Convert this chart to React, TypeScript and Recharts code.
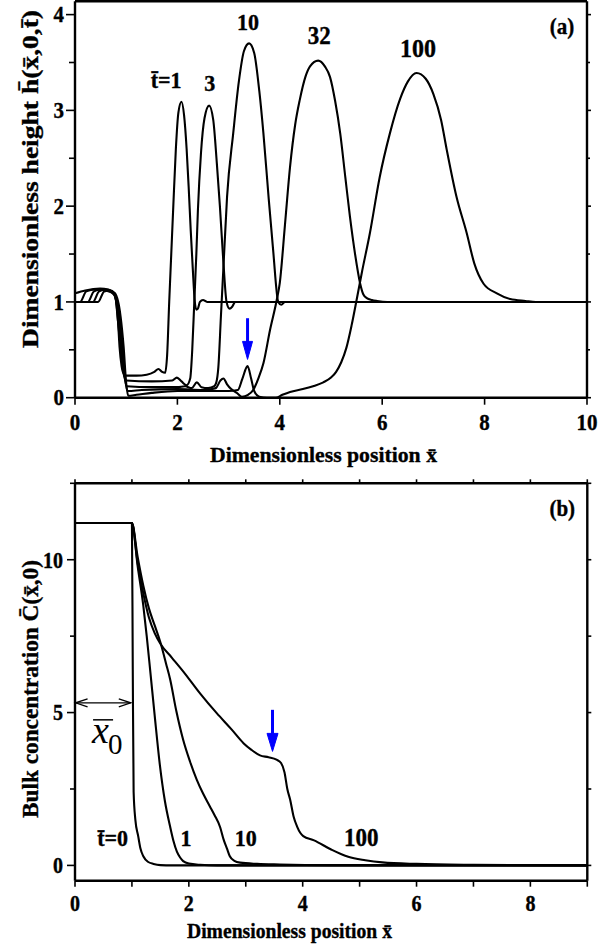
import React from 'react';
import { LineChart, Line, XAxis, YAxis, ReferenceLine, ReferenceDot, Label } from 'recharts';

const SERIF = "'Liberation Serif', 'Times New Roman', Times, serif";

// ---------- Panel (a): dimensionless height h(x,0,t) ----------
const hT1: [number, number][] = [
  [0, 1.0], [0.45, 1.0], [0.57, 1.11], [0.68, 1.12], [0.76, 1.09], [0.8, 1.02], [0.84, 0.8], [0.87, 0.53],
  [0.91, 0.33], [0.95, 0.25], [1.0, 0.23], [1.2, 0.23], [1.4, 0.24], [1.55, 0.27], [1.63, 0.3], [1.7, 0.27],
  [1.76, 0.26], [1.8, 0.45], [1.84, 1.0], [1.88, 1.5], [1.92, 2.0], [1.97, 2.6], [2.02, 2.98], [2.08, 3.09],
  [2.13, 2.95], [2.18, 2.6], [2.22, 2.2], [2.26, 1.75], [2.3, 1.35], [2.34, 1.0], [2.37, 0.92], [2.4, 0.93],
  [2.44, 1.0], [2.5, 1.02], [2.58, 1.0], [10, 1.0],
];
const hT3: [number, number][] = [
  [0, 1.0], [0.35, 1.0], [0.47, 1.11], [0.6, 1.13], [0.72, 1.11], [0.79, 1.05], [0.83, 0.85], [0.89, 0.53],
  [0.94, 0.28], [1.0, 0.18], [1.5, 0.17], [1.9, 0.18], [1.99, 0.21], [2.08, 0.17], [2.18, 0.13], [2.25, 0.2],
  [2.29, 0.5], [2.33, 1.0], [2.37, 1.5], [2.4, 1.95], [2.46, 2.55], [2.53, 2.92], [2.62, 3.05], [2.7, 2.9],
  [2.77, 2.45], [2.83, 2.0], [2.9, 1.4], [2.96, 1.0], [3.02, 0.93], [3.07, 0.95], [3.13, 1.0], [3.25, 1.0], [10, 1.0],
];
const hT10: [number, number][] = [
  [0, 1.0], [0.25, 1.0], [0.37, 1.11], [0.5, 1.13], [0.65, 1.12], [0.77, 1.07], [0.85, 0.85], [0.91, 0.53],
  [0.96, 0.25], [1.01, 0.12], [1.5, 0.11], [2.0, 0.11], [2.15, 0.12], [2.28, 0.1], [2.38, 0.16], [2.47, 0.11],
  [2.6, 0.1], [2.72, 0.12], [2.76, 0.16], [2.8, 0.32], [2.85, 0.85], [2.9, 1.37], [2.97, 2.1], [3.09, 2.76],
  [3.2, 3.3], [3.3, 3.62], [3.4, 3.7], [3.5, 3.6], [3.6, 3.2], [3.68, 2.76], [3.78, 2.1], [3.87, 1.54],
  [3.97, 1.0], [4.03, 0.97], [4.1, 1.0], [10, 1.0],
];
const hT32: [number, number][] = [
  [0, 1.0], [0.1, 1.0], [0.22, 1.11], [0.4, 1.13], [0.6, 1.12], [0.77, 1.08], [0.87, 0.85], [0.93, 0.53],
  [0.98, 0.2], [1.03, 0.07], [1.3, 0.08], [2.0, 0.09], [2.5, 0.08], [2.75, 0.1], [2.84, 0.18], [2.9, 0.2],
  [2.97, 0.14], [3.05, 0.09], [3.16, 0.05], [3.26, 0.01], [3.38, 0.03], [3.48, 0.08], [3.58, 0.2], [3.68, 0.36],
  [3.81, 0.71], [3.94, 1.02], [4.0, 1.2], [4.1, 1.8], [4.2, 2.41], [4.3, 2.85], [4.39, 3.11], [4.5, 3.35],
  [4.59, 3.46], [4.75, 3.52], [4.88, 3.46], [4.98, 3.35], [5.08, 3.1], [5.18, 2.76], [5.28, 2.3], [5.37, 1.89],
  [5.47, 1.5], [5.57, 1.19], [5.63, 1.08], [5.7, 1.04], [5.8, 1.02], [5.9, 1.01], [6.1, 1.0], [10, 1.0],
];
const hT100: [number, number][] = [
  [0, 1.09], [0.2, 1.12], [0.49, 1.14], [0.65, 1.13], [0.78, 1.09], [0.89, 0.85], [0.95, 0.53], [1.0, 0.15],
  [1.04, 0.02], [1.2, 0.03], [1.5, 0.05], [2.0, 0.07], [2.5, 0.07], [3.0, 0.07], [3.18, 0.08], [3.27, 0.2],
  [3.37, 0.33], [3.44, 0.2], [3.5, 0.07], [3.6, 0.01], [3.75, 0.0], [3.92, 0.0], [4.05, 0.03], [4.2, 0.06],
  [4.45, 0.09], [4.65, 0.12], [4.85, 0.16], [5.0, 0.21], [5.1, 0.27], [5.2, 0.37], [5.3, 0.52], [5.4, 0.75],
  [5.5, 1.02], [5.6, 1.3], [5.76, 1.72], [5.95, 2.3], [6.15, 2.76], [6.35, 3.12], [6.5, 3.3], [6.67, 3.39],
  [6.85, 3.33], [7.0, 3.17], [7.15, 2.9], [7.26, 2.59], [7.45, 2.1], [7.65, 1.72], [7.8, 1.4], [7.98, 1.19],
  [8.24, 1.09], [8.5, 1.03], [8.8, 1.01], [9.0, 1.0], [10, 1.0],
];
const hLabels: { x: number; y: number; text: string; size: number }[] = [
  { x: 1.78, y: 3.235, text: 't\u0304=1', size: 22 },
  { x: 2.63, y: 3.2, text: '3', size: 22 },
  { x: 3.38, y: 3.84, text: '10', size: 22 },
  { x: 4.77, y: 3.69, text: '32', size: 23 },
  { x: 6.7, y: 3.56, text: '100', size: 24 },
  { x: 9.51, y: 3.8, text: '(a)', size: 21 },
];
const hXTicks = [0, 2, 4, 6, 8, 10];
const hYTicks = [0, 0.5, 1, 1.5, 2, 2.5, 3, 3.5, 4];

// ---------- Panel (b): bulk concentration C(x,0) ----------
const cT0: [number, number][] = [
  [0, 11.2], [1.0, 11.2], [1.015, 6.4], [1.03, 2.4], [1.06, 1.5], [1.11, 0.96], [1.15, 0.55], [1.2, 0.3],
  [1.28, 0.12], [1.38, 0.05], [1.5, 0.01], [1.7, 0], [9, 0],
];
const cT1: [number, number][] = [
  [0, 11.2], [1.0, 11.2], [1.1, 9.8], [1.2, 8.5], [1.26, 7.5], [1.32, 6.4], [1.4, 4.9], [1.49, 3.3],
  [1.58, 2.1], [1.67, 1.28], [1.73, 0.8], [1.79, 0.45], [1.85, 0.25], [1.9, 0.14], [2.0, 0.06], [2.2, 0.02],
  [2.5, 0.0], [9, 0],
];
const cT10: [number, number][] = [
  [0, 11.2], [1.0, 11.2], [1.1, 10.1], [1.2, 9.15], [1.3, 8.4], [1.4, 7.85], [1.5, 7.3], [1.6, 6.6],
  [1.67, 6.1], [1.78, 5.05], [1.9, 4.11], [2.02, 3.4], [2.14, 2.8], [2.25, 2.35], [2.37, 1.93], [2.45, 1.65],
  [2.55, 1.25], [2.61, 0.85], [2.67, 0.55], [2.72, 0.3], [2.8, 0.15], [2.9, 0.09], [3.2, 0.05], [3.6, 0.03],
  [4.5, 0.01], [9, 0],
];
const cT100: [number, number][] = [
  [0, 11.2], [1.0, 11.2], [1.1, 9.9], [1.2, 8.9], [1.3, 8.1], [1.4, 7.6], [1.5, 7.25], [1.7, 6.8],
  [1.9, 6.35], [2.2, 5.62], [2.49, 4.98], [2.75, 4.45], [2.96, 4.0], [3.1, 3.78], [3.25, 3.6], [3.4, 3.54],
  [3.54, 3.46], [3.62, 3.35], [3.68, 3.05], [3.73, 2.5], [3.78, 2.15], [3.84, 1.6], [3.9, 1.28], [3.96, 1.06],
  [4.01, 0.96], [4.2, 0.82], [4.5, 0.52], [4.8, 0.28], [5.1, 0.17], [5.4, 0.1], [6.0, 0.05], [7, 0.02], [9, 0],
];
const cLabels: { x: number; y: number; text: string; size: number }[] = [
  { x: 0.66, y: 0.62, text: 't\u0304=0', size: 22 },
  { x: 1.95, y: 0.62, text: '1', size: 22 },
  { x: 3.0, y: 0.62, text: '10', size: 22 },
  { x: 5.03, y: 0.62, text: '100', size: 23 },
  { x: 8.56, y: 11.44, text: '(b)', size: 21 },
];
const cXTicks = [0, 1, 2, 3, 4, 5, 6, 7, 8, 9];
const cYTicks = [0, 2.5, 5, 7.5, 10, 12.5];

const toPts = (a: [number, number][]) => a.map(([x, y]) => ({ x, y }));

function SText({ x, y, text, size, k = 1, anchor = 'middle', rotate = false, italic = false, bold = true, len }: any) {
  const tf = rotate
    ? `translate(${x},${y}) rotate(-90) scale(${k},1)`
    : `translate(${x},${y}) scale(1,${k})`;
  const extra: any = len ? { textLength: len, lengthAdjust: 'spacingAndGlyphs' } : {};
  return (
    <g transform={tf}>
      <text
        x={0}
        y={0}
        textAnchor={anchor}
        fill="#000"
        stroke="#000"
        strokeWidth={0.35}
        style={{
          fontFamily: SERIF,
          fontSize: size,
          fontWeight: bold ? 700 : 400,
          fontStyle: italic ? 'italic' : 'normal',
        }}
        {...extra}
      >
        {text}
      </text>
    </g>
  );
}

type TickCfg = {
  orient: 'left' | 'right' | 'bottom' | 'top';
  isMajor: (v: number) => boolean;
  majorLen: number;
  minorLen: number;
  label?: { size: number; k: number; gap: number };
};

function makeTick(cfg: TickCfg) {
  return (p: any) => {
    const { x, y, payload } = p;
    const v = Number(payload.value);
    const maj = cfg.isMajor(v);
    const L = maj ? cfg.majorLen : cfg.minorLen;
    let x2 = x;
    let y2 = y;
    if (cfg.orient === 'left') x2 = x - L;
    else if (cfg.orient === 'right') x2 = x + L;
    else if (cfg.orient === 'bottom') y2 = y + L;
    else y2 = y - L;
    let lab: any = null;
    if (cfg.label && maj) {
      const { size, k, gap } = cfg.label;
      if (cfg.orient === 'left') {
        lab = <SText x={x - gap} y={y + 0.34 * size * k} text={String(v)} size={size} k={k} anchor="end" />;
      } else if (cfg.orient === 'bottom') {
        lab = <SText x={x} y={y + gap} text={String(v)} size={size} k={k} />;
      }
    }
    return (
      <g>
        <line x1={x} y1={y} x2={x2} y2={y2} stroke="#000" strokeWidth={1.6} />
        {lab}
      </g>
    );
  };
}

const textShape = (text: string, size: number, k: number) => (p: any) => (
  <SText x={p.cx} y={p.cy} text={text} size={size} k={k} />
);

const blueHead = (len: number, half: number) => (p: any) => (
  <polygon
    points={`${p.cx},${p.cy} ${p.cx - half},${p.cy - len} ${p.cx + half},${p.cy - len}`}
    fill="#0000ff"
    stroke="#0000ff"
    strokeWidth={1}
  />
);

const openHead = (dir: number) => (p: any) => (
  <polyline
    points={`${p.cx - dir * 12},${p.cy - 4} ${p.cx},${p.cy} ${p.cx - dir * 12},${p.cy + 4}`}
    fill="none"
    stroke="#000"
    strokeWidth={1.3}
  />
);

const x0Shape = (p: any) => (
  <g>
    <line x1={p.cx + 1} y1={p.cy - 23} x2={p.cx + 21} y2={p.cy - 23} stroke="#000" strokeWidth={1.5} />
    <text x={p.cx} y={p.cy} style={{ fontFamily: SERIF, fontStyle: 'italic', fontSize: 38 }} fill="#000">x</text>
    <text x={p.cx + 16} y={p.cy + 11} style={{ fontFamily: SERIF, fontSize: 29 }} fill="#000">0</text>
  </g>
);

const axisLine = { stroke: '#000', strokeWidth: 2.4 };
const LINE = { stroke: '#000', strokeWidth: 2.1, dot: false, isAnimationActive: false, type: 'monotone' as const };

function PanelA() {
  return (
    <LineChart width={598} height={470} margin={{ top: 0, right: 0, bottom: 0, left: 0 }}>
      <XAxis
        xAxisId="b"
        type="number"
        dataKey="x"
        domain={[0, 10]}
        ticks={hXTicks}
        interval={0}
        allowDataOverflow
        height={72.3}
        axisLine={axisLine}
        tickLine={false}
        tickSize={0}
        tickMargin={0}
        tick={makeTick({ orient: 'bottom', isMajor: () => true, majorLen: 7, minorLen: 7, label: { size: 21, k: 1.08, gap: 32 } })}
      >
        <Label
          content={() => <SText x={323.5} y={462} text={'Dimensionless position x\u0304'} size={22} len={227} />}
        />
      </XAxis>
      <XAxis
        xAxisId="t"
        orientation="top"
        type="number"
        dataKey="x"
        domain={[0, 10]}
        ticks={hXTicks}
        allowDataOverflow
        height={1.2}
        axisLine={axisLine}
        tickLine={false}
        tick={false}
      />
      <YAxis
        yAxisId="l"
        type="number"
        domain={[0, 4.14]}
        ticks={hYTicks}
        interval={0}
        allowDataOverflow
        width={75}
        axisLine={axisLine}
        tickLine={false}
        tickSize={0}
        tickMargin={0}
        tick={makeTick({ orient: 'left', isMajor: (v) => Number.isInteger(v), majorLen: 9, minorLen: 6, label: { size: 21, k: 1.08, gap: 11 } })}
      >
        <Label
          content={() => (
            <SText x={37.5} y={179} rotate text={'Dimensionless height h\u0304(x\u0304,0,t\u0304)'} size={24} len={338} />
          )}
        />
      </YAxis>
      <YAxis
        yAxisId="r"
        orientation="right"
        type="number"
        domain={[0, 4.14]}
        ticks={hYTicks}
        interval={0}
        allowDataOverflow
        width={11}
        axisLine={axisLine}
        tickLine={false}
        tickSize={0}
        tickMargin={0}
        tick={makeTick({ orient: 'right', isMajor: (v) => Number.isInteger(v), majorLen: 4, minorLen: 3 })}
      />
      <Line xAxisId="b" yAxisId="l" data={toPts(hT1)} dataKey="y" {...LINE} />
      <Line xAxisId="b" yAxisId="l" data={toPts(hT3)} dataKey="y" {...LINE} />
      <Line xAxisId="b" yAxisId="l" data={toPts(hT10)} dataKey="y" {...LINE} />
      <Line xAxisId="b" yAxisId="l" data={toPts(hT32)} dataKey="y" {...LINE} />
      <Line xAxisId="b" yAxisId="l" data={toPts(hT100)} dataKey="y" {...LINE} />
      <ReferenceLine
        xAxisId="b"
        yAxisId="l"
        segment={[{ x: 3.37, y: 0.83 }, { x: 3.37, y: 0.55 }]}
        stroke="#0000ff"
        strokeWidth={3}
        ifOverflow="visible"
      />
      <ReferenceDot xAxisId="b" yAxisId="l" x={3.37} y={0.4} r={1} ifOverflow="visible" shape={blueHead(18, 5)} />
      {hLabels.map((l) => (
        <ReferenceDot
          key={l.text}
          xAxisId="b"
          yAxisId="l"
          x={l.x}
          y={l.y}
          r={1}
          ifOverflow="visible"
          shape={textShape(l.text, l.size, 1.05)}
        />
      ))}
    </LineChart>
  );
}

function PanelB() {
  return (
    <LineChart width={598} height={478} margin={{ top: 0, right: 0, bottom: 0, left: 0 }}>
      <XAxis
        xAxisId="b"
        type="number"
        dataKey="x"
        domain={[0, 9]}
        ticks={cXTicks}
        interval={0}
        allowDataOverflow
        height={67.3}
        axisLine={axisLine}
        tickLine={false}
        tickSize={0}
        tickMargin={0}
        tick={makeTick({ orient: 'bottom', isMajor: (v) => v % 2 === 0, majorLen: 6, minorLen: 6, label: { size: 20, k: 1.15, gap: 30 } })}
      >
        <Label
          content={() => <SText x={289.5} y={468} text={'Dimensionless position x\u0304'} size={21} len={205} />}
        />
      </XAxis>
      <XAxis
        xAxisId="t"
        orientation="top"
        type="number"
        dataKey="x"
        domain={[0, 9]}
        ticks={cXTicks}
        interval={0}
        allowDataOverflow
        height={13.3}
        axisLine={axisLine}
        tickLine={false}
        tickSize={0}
        tickMargin={0}
        tick={makeTick({ orient: 'top', isMajor: () => true, majorLen: 4, minorLen: 4 })}
      />
      <YAxis
        yAxisId="l"
        type="number"
        domain={[-0.5, 12.5]}
        ticks={cYTicks}
        interval={0}
        allowDataOverflow
        width={75}
        axisLine={axisLine}
        tickLine={false}
        tickSize={0}
        tickMargin={0}
        tick={makeTick({ orient: 'left', isMajor: (v) => v % 5 === 0, majorLen: 8, minorLen: 5, label: { size: 20, k: 1.15, gap: 12 } })}
      >
        <Label
          content={() => (
            <SText x={38} y={219} rotate text={'Bulk concentration C\u0304(x\u0304,0)'} size={24} len={258} />
          )}
        />
      </YAxis>
      <YAxis
        yAxisId="r"
        orientation="right"
        type="number"
        domain={[-0.5, 12.5]}
        ticks={cYTicks}
        interval={0}
        allowDataOverflow
        width={10.7}
        axisLine={axisLine}
        tickLine={false}
        tickSize={0}
        tickMargin={0}
        tick={makeTick({ orient: 'right', isMajor: () => true, majorLen: 4, minorLen: 4 })}
      />
      <Line xAxisId="b" yAxisId="l" data={toPts(cT0)} dataKey="y" {...LINE} />
      <Line xAxisId="b" yAxisId="l" data={toPts(cT1)} dataKey="y" {...LINE} />
      <Line xAxisId="b" yAxisId="l" data={toPts(cT10)} dataKey="y" {...LINE} />
      <Line xAxisId="b" yAxisId="l" data={toPts(cT100)} dataKey="y" {...LINE} />
      <ReferenceLine
        xAxisId="b"
        yAxisId="l"
        segment={[{ x: 3.47, y: 5.09 }, { x: 3.47, y: 4.25 }]}
        stroke="#0000ff"
        strokeWidth={3}
        ifOverflow="visible"
      />
      <ReferenceDot xAxisId="b" yAxisId="l" x={3.47} y={3.73} r={1} ifOverflow="visible" shape={blueHead(18, 5.5)} />
      <ReferenceLine
        xAxisId="b"
        yAxisId="l"
        segment={[{ x: 0.01, y: 5.32 }, { x: 0.98, y: 5.32 }]}
        stroke="#000"
        strokeWidth={1.3}
        ifOverflow="visible"
      />
      <ReferenceDot xAxisId="b" yAxisId="l" x={0.01} y={5.32} r={1} ifOverflow="visible" shape={openHead(-1)} />
      <ReferenceDot xAxisId="b" yAxisId="l" x={0.98} y={5.32} r={1} ifOverflow="visible" shape={openHead(1)} />
      <ReferenceDot xAxisId="b" yAxisId="l" x={0.3} y={4.01} r={1} ifOverflow="visible" shape={x0Shape} />
      {cLabels.map((l) => (
        <ReferenceDot
          key={l.text}
          xAxisId="b"
          yAxisId="l"
          x={l.x}
          y={l.y}
          r={1}
          ifOverflow="visible"
          shape={textShape(l.text, l.size, 1.05)}
        />
      ))}
    </LineChart>
  );
}

export default function App() {
  return (
    <div style={{ position: 'absolute', left: 0, top: 0, width: 598, height: 948, background: '#fff' }}>
      <div style={{ position: 'absolute', left: 0, top: 0 }}>
        <PanelA />
      </div>
      <div style={{ position: 'absolute', left: 0, top: 470 }}>
        <PanelB />
      </div>
    </div>
  );
}
